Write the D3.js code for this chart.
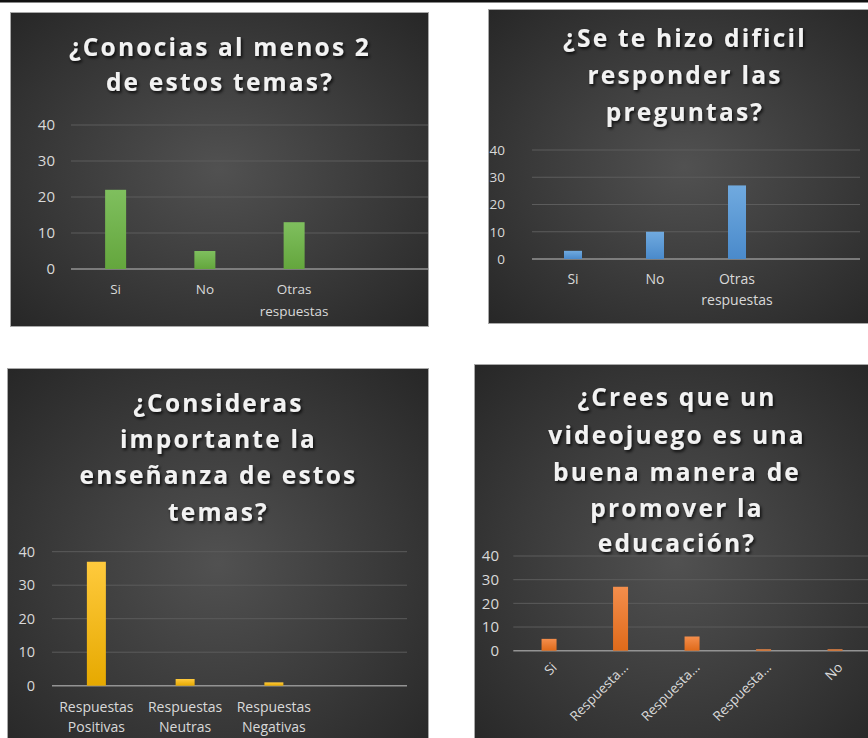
<!DOCTYPE html>
<html><head><meta charset="utf-8">
<script src="https://cdn.jsdelivr.net/npm/d3@7"></script>
<style>body{margin:0;background:#fff}svg{display:block}</style>
</head><body>
<script>
// ---------- data ----------
const titles1 = ["¿Conocias al menos 2", "de estos temas?"];
const categories1 = ["Si", "No", "Otras respuestas"];
const values1 = [22, 5, 13];

const titles2 = ["¿Se te hizo dificil", "responder las", "preguntas?"];
const categories2 = ["Si", "No", "Otras respuestas"];
const values2 = [3, 10, 27];

const titles3 = ["¿Consideras", "importante la", "enseñanza de estos", "temas?"];
const categories3 = ["Respuestas Positivas", "Respuestas Neutras", "Respuestas Negativas"];
const values3 = [37, 2, 1];

const titles4 = ["¿Crees que un", "videojuego es una", "buena manera de", "promover la", "educación?"];
const categories4 = ["Si", "Respuesta...", "Respuesta...", "Respuesta...", "No"];
const values4 = [5, 27, 6, 0.6, 0.6];

const yTicks = [0, 10, 20, 30, 40];

// ---------- layout ----------
const W = 868, H = 738;
const svg = d3.select("body").append("svg").attr("width", W).attr("height", H);
const defs = svg.append("defs");

const bg = defs.append("radialGradient").attr("id", "bg").attr("cx", "50%").attr("cy", "50%").attr("r", "72%");
bg.append("stop").attr("offset", "0%").attr("stop-color", "#515151");
bg.append("stop").attr("offset", "100%").attr("stop-color", "#262626");

const flt = defs.append("filter").attr("id", "sh").attr("x", "-10%").attr("y", "-40%").attr("width", "120%").attr("height", "180%");
flt.append("feDropShadow").attr("dx", 1.5).attr("dy", 2).attr("stdDeviation", 1.6)
  .attr("flood-color", "#000").attr("flood-opacity", 0.8);

svg.append("rect").attr("x", 0).attr("y", 0).attr("width", W).attr("height", 2.5).attr("fill", "#111");

const panels = [
  { titles: titles1, cats: categories1, vals: values1, slots: 4,
    box: [10, 12, 418, 314], px: [71, 428], py: [269, 125], barW: 21,
    col: ["#7fbf5e", "#64a63d"], tickSize: 15, tickRight: 55,
    labelSize: 13.5, labelY: 290, lineH: 22, titleY: [47, 82], rotate: false },
  { titles: titles2, cats: categories2, vals: values2, slots: 4,
    box: [488, 9, 392, 314], px: [532, 860], py: [259, 150], barW: 18,
    col: ["#70aadf", "#4a8acb"], tickSize: 13.5, tickRight: 505,
    labelSize: 14, labelY: 280, lineH: 21.7, titleY: [38, 75, 112], rotate: false },
  { titles: titles3, cats: categories3, vals: values3, slots: 4,
    box: [7, 368, 421, 390], px: [52, 407], py: [685.7, 551.7], barW: 19,
    col: ["#ffca3d", "#e6a900"], tickSize: 14.5, tickRight: 35,
    labelSize: 14, labelY: 708, lineH: 20, titleY: [403, 439, 475, 512], rotate: false },
  { titles: titles4, cats: categories4, vals: values4, slots: 5,
    box: [474, 364, 404, 390], px: [513.3, 870.8], py: [650.7, 556], barW: 15,
    col: ["#f48e4c", "#df6a1a"], tickSize: 15, tickRight: 499,
    labelSize: 13.5, titleY: [397, 435, 472, 508, 543], rotate: true }
];

panels.forEach((p, pi) => {
  const g = svg.append("g");
  const [bx, by, bw, bh] = p.box;
  g.append("rect").attr("x", bx + 0.5).attr("y", by + 0.5).attr("width", bw).attr("height", bh)
    .attr("fill", "url(#bg)").attr("stroke", "#a8a8a8").attr("stroke-width", 1);

  // title
  g.append("g").attr("filter", "url(#sh)").selectAll("text").data(p.titles).join("text")
    .attr("x", bx + bw / 2 + 1).attr("y", (d, i) => p.titleY[i] + 8.5)
    .attr("text-anchor", "middle")
    .attr("font-family", "'Open Sans', sans-serif").attr("font-weight", 700)
    .attr("font-size", 24.5).attr("letter-spacing", 2.2)
    .attr("fill", "#f2f2f2").text(d => d);

  // scales
  const slots = d3.range(p.slots);
  const step = (p.px[1] - p.px[0]) / p.slots;
  const pad = 1 - p.barW / step;
  const x = d3.scaleBand().domain(slots).range(p.px).paddingInner(pad).paddingOuter(pad / 2);
  const y = d3.scaleLinear().domain([0, 40]).range(p.py);

  // gridlines
  g.selectAll("line.grid").data(yTicks.filter(t => t !== 0)).join("line")
    .attr("x1", p.px[0]).attr("x2", Math.min(p.px[1], W))
    .attr("y1", d => y(d)).attr("y2", d => y(d))
    .attr("stroke", "#5c5c5c").attr("stroke-width", 1);

  // y axis labels
  const ax = g.append("g").attr("transform", `translate(${p.px[0]},0)`)
    .call(d3.axisLeft(y).tickValues(yTicks).tickSize(0).tickPadding(p.px[0] - p.tickRight));
  ax.select(".domain").remove();
  ax.selectAll("text").attr("font-family", "'Open Sans', sans-serif").attr("font-size", p.tickSize)
    .attr("fill", "#d9d9d9");

  // zero axis line
  g.append("line").attr("x1", p.px[0]).attr("x2", Math.min(p.px[1], W))
    .attr("y1", y(0)).attr("y2", y(0)).attr("stroke", "#939393").attr("stroke-width", 1.5);

  // bars
  const gid = "bar" + pi;
  const lg = defs.append("linearGradient").attr("id", gid).attr("x1", 0).attr("y1", 0).attr("x2", 0).attr("y2", 1);
  lg.append("stop").attr("offset", "0%").attr("stop-color", p.col[0]);
  lg.append("stop").attr("offset", "100%").attr("stop-color", p.col[1]);
  g.selectAll("rect.bar").data(p.vals).join("rect")
    .attr("x", (d, i) => x(i)).attr("width", x.bandwidth())
    .attr("y", d => y(d)).attr("height", d => y(0) - y(d))
    .attr("fill", `url(#${gid})`);

  // category labels
  if (!p.rotate) {
    const t = g.selectAll("text.cat").data(p.cats).join("text")
      .attr("text-anchor", "middle")
      .attr("font-family", "'Open Sans', sans-serif").attr("font-size", p.labelSize)
      .attr("fill", "#d9d9d9");
    t.each(function (d, i) {
      const words = d.split(" ");
      const cx = x(i) + x.bandwidth() / 2;
      d3.select(this).selectAll("tspan").data(words).join("tspan")
        .attr("x", cx).attr("y", (w, k) => p.labelY + k * p.lineH)
        .attr("dominant-baseline", "middle").text(w => w);
    });
  } else {
    g.selectAll("text.cat").data(p.cats).join("text")
      .attr("text-anchor", "end").attr("dominant-baseline", "middle")
      .attr("transform", (d, i) => `translate(${x(i) + x.bandwidth() / 2 + 6},${y(0) + 15}) rotate(-45)`)
      .attr("font-family", "'Open Sans', sans-serif").attr("font-size", p.labelSize)
      .attr("fill", "#d9d9d9").text(d => d);
  }
});
</script>
</body></html>
